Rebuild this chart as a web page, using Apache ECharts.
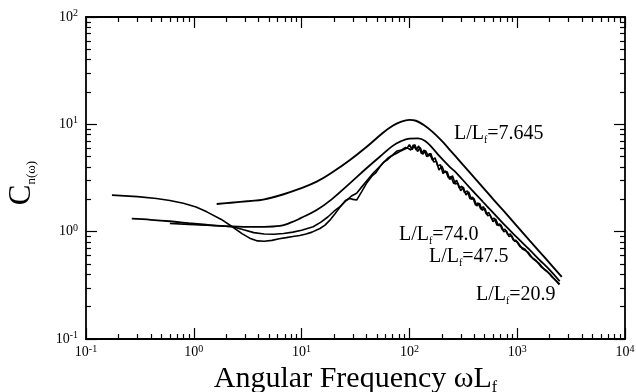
<!DOCTYPE html>
<html><head><meta charset="utf-8">
<script src="https://cdn.jsdelivr.net/npm/echarts@6/dist/echarts.min.js"></script>
<style>html,body{margin:0;padding:0;background:#fff}#c{width:636px;height:392px}</style>
</head><body><div id="c"></div>
<script>
// Tick values
const xMajor = [0.1, 1, 10, 100, 1000, 10000];
const yMajor = [0.1, 1, 10, 100];
const minorMult = [2, 3, 4, 5, 6, 7, 8, 9];

// Series: L/Lf = 7.645
const curve7645 = [[1.63,1.81],[2.2,1.86],[3.3,1.93],[4.4,1.99],[6.7,2.22],[9.5,2.5],[13.8,2.92],[19.6,3.61],[28.1,4.65],[40.2,6.18],[57.3,8.4],[70,9.7],[82,10.5],[100,11.0],[115,10.8],[135,9.9],[164,8.5],[200,7.0],[238,5.76],[300,4.42],[359,3.6],[480,2.59],[600,2.0],[800,1.45],[1000,1.12],[1300,0.83],[1600,0.656],[2000,0.509],[2590,0.379]];
// Series: L/Lf = 47.5 (smooth second peak)
const curve475 = [[0.266,1.32],[0.4,1.29],[0.6,1.25],[0.9,1.2],[1.3,1.16],[1.8,1.13],[2.3,1.12],[3.2,1.11],[4.5,1.11],[6.3,1.13],[8,1.22],[9.7,1.33],[13.8,1.59],[19,2.0],[28,2.82],[40,3.9],[57,5.3],[70,6.3],[82,6.9],[100,7.35],[120,7.4],[140,7.0],[164,6.0],[192,5.0],[238,4.0],[275,3.5],[359,2.6],[480,1.9],[600,1.5],[800,1.1],[1000,0.88],[1300,0.68],[1600,0.55],[2000,0.44],[2480,0.345]];
// Series: L/Lf = 20.9
const curve209 = [[0.6,1.19],[0.9,1.17],[1.3,1.15],[1.8,1.13],[2.3,1.11],[2.9,1.04],[3.6,0.98],[4.5,0.95],[5.5,0.945],[6.8,0.96],[8.3,0.99],[10,1.03],[12.8,1.11],[15,1.22],[17.5,1.37],[20,1.55],[22.7,1.71],[26,1.95],[29,2.15],[32.4,2.28],[36,2.6],[41,3.05],[46,3.5],[52,3.95],[58,4.45],[64,4.9],[70,5.2],[77,5.65],[84,5.75],[92,6.1],[98,5.95],
 [103,5.77],[109,6.44],[115.5,5.79],[122,6.28],[129.5,5.32],[137,5.77],[145,5.0],[154,5.36],[163,4.65],[173,4.88],[183,4.09],[194,4.2],[205,3.48],[217,3.68],[230,3.18],[244,3.25],[258,2.8],[274,3.02],[290,2.55],[307,2.65],[325,2.31],[345,2.39],[365,2.02],[387,2.09],[410,1.77],[434,1.85],[460,1.62],[487,1.71],[516,1.46],[546,1.51],[579,1.32],[613,1.33],[649,1.15],[688,1.18],[729,1.04],[772,1.05],[817,0.937],[866,0.951],[917,0.837],[971,0.832],[1059,0.728],[1189,0.682],[1334,0.585],[1496,0.539],[1679,0.467],[1884,0.43],[2113,0.377],[2371,0.34],[2480,0.325]];
// Series: L/Lf = 74.0
const curve740 = [[0.174,2.19],[0.3,2.12],[0.45,2.04],[0.6,1.95],[0.8,1.84],[1.05,1.7],[1.32,1.53],[1.8,1.3],[2.31,1.1],[2.8,0.96],[3.3,0.87],[3.9,0.82],[4.5,0.815],[5.3,0.83],[6.2,0.86],[7.2,0.88],[8.3,0.9],[9.6,0.92],[11,0.95],[12.5,0.99],[14.8,1.07],[16.5,1.15],[18.3,1.28],[20.5,1.48],[23,1.72],[25.5,1.95],[28,2.04],[30,2.0],[32.4,1.97],[36,2.35],[40,2.82],[45,3.3],[49,3.55],[53,4.0],[58,4.45],[63,4.7],[68,5.05],[74,5.3],[82,5.6],[90,5.85],[95,6.0],
 [100,6.47],[106,5.81],[112,6.48],[119,5.59],[126,6.08],[133,5.26],[141,5.7],[150,5.05],[158,5.35],[168,4.45],[178,4.54],[188,3.75],[200,4.08],[211,3.57],[224,3.61],[237,3.06],[251,3.32],[266,2.78],[282,2.82],[299,2.41],[316,2.6],[335,2.2],[355,2.34],[376,2.01],[398,2.03],[422,1.74],[447,1.84],[473,1.58],[501,1.65],[531,1.41],[562,1.43],[596,1.24],[631,1.31],[668,1.14],[708,1.15],[750,1.0],[794,1.02],[841,0.9],[891,0.915],[944,0.814],[1000,0.809],[1122,0.687],[1259,0.645],[1413,0.554],[1585,0.51],[1778,0.446],[1995,0.407],[2239,0.356],[2460,0.321]];

const minorOf = (major) => {
  const out = [];
  for (let i = 0; i < major.length - 1; i++) minorMult.forEach(m => out.push(major[i] * m));
  return out;
};
const xMinor = minorOf(xMajor);
const yMinor = minorOf(yMajor);

const SERIF = '"Liberation Serif","DejaVu Serif",serif';
const expLabel = v => {
  const e = Math.round(Math.log10(v));
  return '{b|10}{s|' + e + '}';
};
const labelRich = {
  b: { fontFamily: SERIF, fontSize: 14, color: '#000', lineHeight: 17 },
  s: { fontFamily: SERIF, fontSize: 10, color: '#000', verticalAlign: 'top', lineHeight: 17 }
};

function xAx(pos, major, showLabel) {
  return {
    type: 'log', logBase: 10, min: 0.1, max: 10000, position: pos, gridIndex: 0,
    axisLine: { show: major, onZero: false, lineStyle: { color: '#000', width: 1.8 } },
    axisTick: { show: true, inside: true, length: major ? 11 : 5, customValues: major ? xMajor : xMinor, lineStyle: { color: '#000', width: 1.2 } },
    axisLabel: { show: showLabel, customValues: xMajor, formatter: expLabel, rich: labelRich, margin: 5 },
    splitLine: { show: false }, minorTick: { show: false },
    name: showLabel ? '{a|Angular Frequency ωL}{f|f}' : '',
    nameLocation: 'middle', nameGap: 19,
    nameTextStyle: { rich: {
      a: { fontFamily: SERIF, fontSize: 30, color: '#000', lineHeight: 32 },
      f: { fontFamily: SERIF, fontSize: 16, color: '#000', verticalAlign: 'bottom', lineHeight: 32 }
    } }
  };
}
function yAx(pos, major, showLabel) {
  return {
    type: 'log', logBase: 10, min: 0.1, max: 100, position: pos, gridIndex: 0,
    axisLine: { show: major, onZero: false, lineStyle: { color: '#000', width: 1.8 } },
    axisTick: { show: true, inside: true, length: major ? 11 : 5, customValues: major ? yMajor : yMinor, lineStyle: { color: '#000', width: 1.2 } },
    axisLabel: { show: showLabel, customValues: yMajor, formatter: expLabel, rich: labelRich, margin: 8 },
    splitLine: { show: false }, minorTick: { show: false },
    name: showLabel ? '{c|C}{n|n(ω)}' : '',
    nameLocation: 'middle', nameGap: 48, nameRotate: 90,
    nameTextStyle: { padding: [0, 10, 0, 0], rich: {
      c: { fontFamily: SERIF, fontSize: 31, color: '#000', lineHeight: 32 },
      n: { fontFamily: SERIF, fontSize: 13, color: '#000', verticalAlign: 'bottom', lineHeight: 32 }
    } }
  };
}

const ann = (left, top, val) => ({
  type: 'text', left: left, top: top,
  style: {
    text: '{m|L/L}{f|f}{m|=' + val + '}',
    rich: {
      m: { fontFamily: SERIF, fontSize: 20, fill: '#000', lineHeight: 22 },
      f: { fontFamily: SERIF, fontSize: 10, fill: '#000', verticalAlign: 'bottom', lineHeight: 20 }
    }
  }
});

const mk = (name, data, smooth, w) => ({
  name: name, type: 'line', data: data, showSymbol: false, smooth: smooth,
  lineStyle: { color: '#000', width: w }, xAxisIndex: 0, yAxisIndex: 0, silent: true, animation: false
});

const chart = echarts.init(document.getElementById('c'), null, { renderer: 'canvas' });
chart.setOption({
  animation: false,
  backgroundColor: '#fff',
  grid: { left: 86, right: 11, top: 17, bottom: 53, containLabel: false, outerBoundsMode: 'none' },
  xAxis: [xAx('bottom', true, true), xAx('bottom', false, false), xAx('top', true, false), xAx('top', false, false)],
  yAxis: [yAx('left', true, true), yAx('left', false, false), yAx('right', true, false), yAx('right', false, false)],
  series: [
    mk('L/Lf=7.645', curve7645, 0.4, 1.9),
    mk('L/Lf=47.5', curve475, 0.4, 1.8),
    mk('L/Lf=20.9', curve209, false, 1.6),
    mk('L/Lf=74.0', curve740, false, 1.6)
  ],
  graphic: [
    ann(454, 124, '7.645'),
    ann(399, 225, '74.0'),
    ann(429, 247, '47.5'),
    ann(476, 285, '20.9')
  ]
});
</script></body></html>
